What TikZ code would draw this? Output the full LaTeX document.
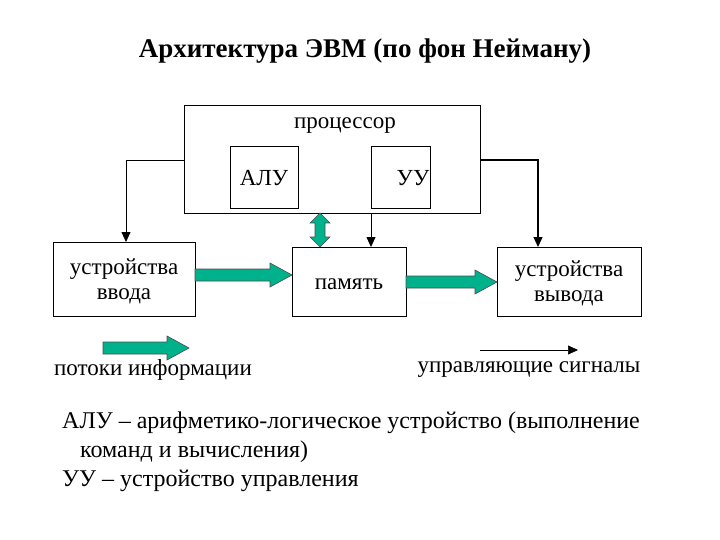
\documentclass[tikz,border=0pt]{standalone}
\usepackage{fontspec}
\setmainfont{Liberation Serif}
\usetikzlibrary{arrows.meta}
\definecolor{flow}{RGB}{0,178,140}
\newcommand\myfatR[2]{% start (x,y), length
  \draw[fat] (#1) ++(0,-6) -- ++(#2-22,0) -- ++(0,-6) -- ++(22,12) -- ++(-22,12) -- ++(0,-6) -- ++(-#2+22,0) -- cycle;}
\begin{document}
\begin{tikzpicture}[x=1pt,y=-1pt,
  box/.style={draw,line width=0.8pt,inner sep=0},
  txt/.style={font=\fontsize{23}{25}\selectfont,align=center},
  fat/.style={draw=black!70,fill=flow,line width=0.6pt},
  ctl/.style={-{Triangle[length=10pt,width=9pt]},line width=0.8pt}]
\useasboundingbox (0,0) rectangle (720,540);
\node[font=\bfseries\fontsize{27}{29}\selectfont] (title) at (365,51) {Архитектура ЭВМ (по фон Нейману)};
\draw[box] (184,105) rectangle (480,213);
\node[txt] (proclab) at (345,126) {процессор};
\draw[box] (230,146) rectangle (298,208); \node[txt] (alu) at (264,178) {АЛУ};
\draw[box] (371,146) rectangle (430,208); \node[txt] (uu) at (413,178) {УУ};
\draw[box] (53,242) rectangle (195,316); \node[txt,text depth=0pt] (in) at (124,279) {устройства\\ввода};
\draw[box] (292,247) rectangle (406,316); \node[txt] (mem) at (349,284) {память};
\draw[box] (497,247) rectangle (641,316); \node[txt] (out) at (569,283) {устройства\\вывода};
% fat arrows
\coordinate (a1) at (195,275); \myfatR{a1}{97}
\coordinate (a2) at (406,282); \myfatR{a2}{91}
\coordinate (d) at (320,213);
\draw[fat] (d) -- ++(10,10) -- ++(-5,0) -- ++(0,14) -- ++(5,0) -- ++(-10,10) -- ++(-10,-10) -- ++(5,0) -- ++(0,-14) -- ++(-5,0) -- cycle;
% control arrows
\coordinate (pl) at (184,160); \coordinate (pr) at (480,160);
\coordinate (il) at (126,242); \coordinate (or) at (538,247);
\coordinate (ub) at (371,213); \coordinate (mt) at (371,247);
\draw[ctl] (pl) -| (il);
\draw[ctl,line width=1.3pt] (pr) -| (or);
\draw[ctl] (ub) -- (mt);
% legend
\coordinate (a3) at (103,348); \myfatR{a3}{86}
\node[txt] (lft) at (153,370) {потоки информации};
\coordinate (ls) at (480,350); \coordinate (le) at (578,350);
\draw[ctl,line width=0.6pt] (ls) -- (le);
\node[txt] (lct) at (529,370) {управляющие сигналы};
% notes
\node[anchor=west,font=\fontsize{24}{26}\selectfont,inner sep=0] (n1) at (62,423) {АЛУ – арифметико-логическое устройство (выполнение};
\node[anchor=west,font=\fontsize{24}{26}\selectfont,inner sep=0] (n2) at (80,452) {команд и вычисления)};
\node[anchor=west,font=\fontsize{24}{26}\selectfont,inner sep=0] (n3) at (62,481) {УУ – устройство управления};
\end{tikzpicture}
\end{document}
